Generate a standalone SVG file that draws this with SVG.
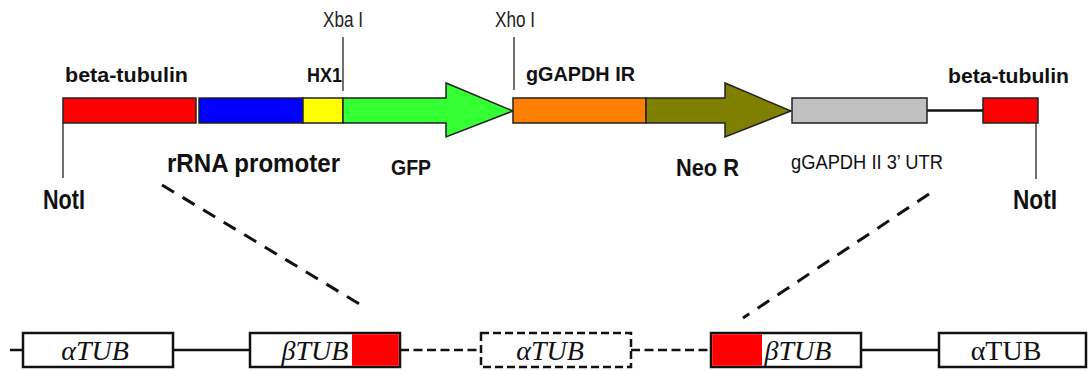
<svg xmlns="http://www.w3.org/2000/svg" width="1089" height="371" viewBox="0 0 1089 371">
<style>
.seg{stroke:#222;stroke-width:1.5}
.lbl{font-family:"Liberation Sans",Arial,sans-serif;font-weight:bold;fill:#111}
.site{font-family:"Liberation Sans",Arial,sans-serif;font-size:22px;fill:#222}
.reg{font-family:"Liberation Sans",Arial,sans-serif;font-size:20px;fill:#111}
.thin{stroke:#222;stroke-width:1.3;fill:none}
.box{fill:#fff;stroke:#111;stroke-width:2.5}
.dbox{fill:#fff;stroke:#111;stroke-width:2.5;stroke-dasharray:8 4}
.tub{font-family:"Liberation Serif","Times New Roman",serif;font-size:28px;fill:#111;text-anchor:middle}
.it{font-style:italic}
.wire{stroke:#111;stroke-width:2.5;fill:none}
.dwire{stroke:#111;stroke-width:2.5;fill:none;stroke-dasharray:9 4.5}
.diag{stroke:#111;stroke-width:3;fill:none;stroke-dasharray:14 10}
</style>
<rect width="1089" height="371" fill="#fff"/>
<g id="connectors">
  <line class="thin" x1="63" y1="123" x2="63" y2="178"/>
  <line class="thin" x1="1036" y1="123" x2="1036" y2="179"/>
  <line class="thin" x1="343" y1="37" x2="343" y2="91"/>
  <line class="thin" x1="514" y1="37" x2="514" y2="90"/>
  <line x1="927" y1="110.5" x2="983" y2="110.5" stroke="#111" stroke-width="2.5"/>
  <line class="diag" x1="162" y1="185" x2="366" y2="308"/>
  <line class="diag" x1="929" y1="194" x2="743" y2="318"/>
  <line class="wire" x1="10" y1="350" x2="23" y2="350"/>
  <line class="wire" x1="173" y1="350" x2="250" y2="350"/>
  <line class="dwire" x1="400" y1="350" x2="481" y2="350"/>
  <line class="dwire" x1="631" y1="350" x2="711" y2="350"/>
  <line class="wire" x1="861" y1="350" x2="939" y2="350"/>
</g>
<g id="beta-tubulin-left">
  <rect class="seg" x="63" y="98" width="133" height="25" fill="#ff0000"/>
  <text class="lbl" x="65" y="82" font-size="21" textLength="123" lengthAdjust="spacingAndGlyphs">beta-tubulin</text>
  <text class="lbl" x="43" y="209" font-size="27" textLength="42" lengthAdjust="spacingAndGlyphs">NotI</text>
</g>
<g id="rrna-promoter">
  <rect class="seg" x="199" y="98" width="104" height="25" fill="#0000ff"/>
  <text class="lbl" x="167" y="172" font-size="25" textLength="173" lengthAdjust="spacingAndGlyphs">rRNA promoter</text>
</g>
<g id="hx1">
  <rect class="seg" x="303" y="98" width="40" height="25" fill="#ffff00"/>
  <text class="lbl" x="307" y="82" font-size="21" textLength="35" lengthAdjust="spacingAndGlyphs">HX1</text>
  <text class="site" x="323" y="27" textLength="40" lengthAdjust="spacingAndGlyphs">Xba I</text>
</g>
<g id="gfp">
  <polygon class="seg" points="343,98 446,98 446,83 513,111 446,137 446,123 343,123" fill="#33ff33"/>
  <text class="lbl" x="391" y="175" font-size="22" textLength="40" lengthAdjust="spacingAndGlyphs">GFP</text>
</g>
<g id="ggapdh-ir">
  <rect class="seg" x="513" y="98" width="133" height="25" fill="#ff8000"/>
  <text class="lbl" x="526" y="81" font-size="21" textLength="109" lengthAdjust="spacingAndGlyphs">gGAPDH IR</text>
  <text class="site" x="495" y="27" textLength="40" lengthAdjust="spacingAndGlyphs">Xho I</text>
</g>
<g id="neo-r">
  <polygon class="seg" points="646,98 725,98 725,83 791,111 725,137 725,123 646,123" fill="#808000"/>
  <text class="lbl" x="676" y="176" font-size="23" textLength="63" lengthAdjust="spacingAndGlyphs">Neo R</text>
</g>
<g id="ggapdh-utr">
  <rect class="seg" x="792" y="98" width="135" height="25" fill="#c0c0c0"/>
  <text class="reg" x="791" y="169" textLength="152" lengthAdjust="spacingAndGlyphs">gGAPDH II 3’ UTR</text>
</g>
<g id="beta-tubulin-right">
  <rect class="seg" x="983" y="98" width="55" height="25" fill="#ff0000"/>
  <text class="lbl" x="948" y="83" font-size="21" textLength="121" lengthAdjust="spacingAndGlyphs">beta-tubulin</text>
  <text class="lbl" x="1013" y="209" font-size="27" textLength="44" lengthAdjust="spacingAndGlyphs">NotI</text>
</g>
<g id="atub-1">
  <rect class="box" x="23" y="333" width="150" height="34"/>
  <text class="tub it" x="95" y="360">αTUB</text>
</g>
<g id="btub-1">
  <rect class="box" x="250" y="333" width="150" height="34"/>
  <rect x="352" y="334.25" width="46.75" height="31.5" fill="#ff0000"/>
  <text class="tub it" x="315" y="360">βTUB</text>
</g>
<g id="atub-2">
  <rect class="dbox" x="481" y="333" width="150" height="34"/>
  <text class="tub it" x="550" y="360">αTUB</text>
</g>
<g id="btub-2">
  <rect class="box" x="711" y="333" width="150" height="34"/>
  <rect x="712.25" y="334.25" width="49.75" height="31.5" fill="#ff0000"/>
  <text class="tub it" x="798" y="360">βTUB</text>
</g>
<g id="atub-3">
  <rect class="box" x="939" y="333" width="147" height="34"/>
  <text class="tub" x="1006" y="360">αTUB</text>
</g>
</svg>
